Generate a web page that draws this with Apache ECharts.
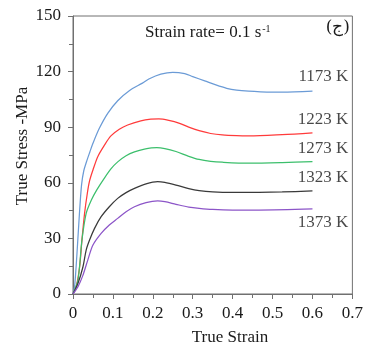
<!DOCTYPE html>
<html>
<head>
<meta charset="utf-8">
<script src="https://cdn.jsdelivr.net/npm/echarts@6/dist/echarts.min.js"></script>
<style>
html,body{margin:0;padding:0;background:#fff;}
#chart{width:366px;height:352px;}
</style>
</head>
<body>
<div id="chart"></div>
<script>
const seriesNames = ['1173 K', '1223 K', '1273 K', '1323 K', '1373 K'];
const seriesColors = ['#6b9bd6', '#ff3b3b', '#3cbf6c', '#3a3a3a', '#8c55c8'];

const strain1173 = [0, 0.004, 0.010, 0.016, 0.0215, 0.027, 0.034, 0.042, 0.050, 0.066, 0.087, 0.112, 0.141, 0.174, 0.19, 0.22, 0.25, 0.28, 0.30, 0.33, 0.358, 0.385, 0.41, 0.44, 0.47, 0.524, 0.6];
const stress1173 = [0, 4, 22, 43, 59, 66.5, 71.5, 76.5, 81.3, 89.4, 97.5, 104.3, 109.7, 113.8, 116, 118.6, 119.6, 118.9, 117.3, 115, 112.8, 111, 110, 109.4, 109.1, 108.9, 109.5];

const strain1223 = [0, 0.008, 0.0166, 0.0224, 0.029, 0.036, 0.0415, 0.05, 0.062, 0.079, 0.095, 0.116, 0.137, 0.17, 0.195, 0.215, 0.24, 0.267, 0.29, 0.316, 0.345, 0.374, 0.41, 0.441, 0.524, 0.6];
const stress1223 = [0, 3.9, 14.7, 29.1, 43.5, 54.5, 61, 66.9, 74.1, 80.4, 85.3, 88.9, 91.2, 93.4, 94.3, 94.5, 93.7, 92.1, 90, 88.1, 86.6, 85.8, 85.4, 85.3, 86, 87];

const strain1273 = [0, 0.0125, 0.0224, 0.033, 0.046, 0.06, 0.077, 0.095, 0.112, 0.133, 0.154, 0.179, 0.21, 0.23, 0.258, 0.29, 0.316, 0.345, 0.374, 0.441, 0.524, 0.6];
const stress1273 = [0, 7.6, 29.1, 43.5, 50.7, 56.3, 62, 67.5, 71.3, 74.6, 76.7, 78.2, 79, 78.5, 76.9, 74.3, 72.6, 71.6, 71.1, 70.6, 70.9, 71.4];

const strain1323 = [0, 0.0125, 0.025, 0.033, 0.0415, 0.054, 0.0705, 0.091, 0.112, 0.133, 0.154, 0.183, 0.212, 0.23, 0.258, 0.29, 0.316, 0.35, 0.4, 0.466, 0.524, 0.6];
const stress1323 = [0, 5.8, 14.7, 23.7, 29.1, 35.4, 41.7, 47.1, 51.6, 54.7, 57, 59.4, 60.6, 60.2, 58.8, 56.9, 55.8, 55.1, 54.8, 54.9, 55.1, 55.6];

const strain1373 = [0, 0.0125, 0.025, 0.037, 0.05, 0.0705, 0.091, 0.112, 0.133, 0.154, 0.183, 0.212, 0.23, 0.258, 0.29, 0.316, 0.35, 0.4, 0.466, 0.6];
const stress1373 = [0, 4, 10.2, 18.3, 26.4, 32.7, 37.2, 40.8, 44.4, 47.1, 49.3, 50.2, 49.8, 48.4, 46.9, 46.2, 45.6, 45.3, 45.3, 45.9];

const strains = [strain1173, strain1223, strain1273, strain1323, strain1373];
const stresses = [stress1173, stress1223, stress1273, stress1323, stress1373];

// label anchor points (data coords, right edge / vertical middle) for the temperature labels
const labelStrain = [0.69, 0.69, 0.69, 0.69, 0.69];
const labelStress = [117.1, 93.9, 78.5, 62.6, 38.6];

const xTicks = [0, 0.1, 0.2, 0.3, 0.4, 0.5, 0.6, 0.7];
const yTicks = [0, 30, 60, 90, 120, 150];

const FONT = 'Liberation Serif';
const chart = echarts.init(document.getElementById('chart'), null, {renderer: 'canvas'});

const series = seriesNames.map((name, i) => ({
  name: name,
  type: 'line',
  data: strains[i].map((x, j) => [x, stresses[i][j]]),
  smooth: 0.3,
  showSymbol: false,
  lineStyle: {color: seriesColors[i], width: 1.25},
  itemStyle: {color: seriesColors[i]},
  z: 3
}));

series.push({
  type: 'scatter',
  data: labelStrain.map((x, i) => [x, labelStress[i], seriesNames[i]]),
  symbolSize: 0,
  label: {
    show: true,
    position: 'inside',
    align: 'right',
    verticalAlign: 'middle',
    formatter: p => p.data[2],
    fontFamily: FONT,
    fontSize: 17,
    color: '#1a1a1a'
  },
  silent: true
});

const axisLineColor = '#707070';

chart.setOption({
  animation: false,
  backgroundColor: '#fff',
  grid: {left: 73, right: 12, top: 16, bottom: 58, show: true, borderColor: axisLineColor, borderWidth: 1},
  xAxis: {
    type: 'value', min: 0, max: 0.7, interval: 0.1,
    axisLine: {show: true, lineStyle: {color: axisLineColor, width: 1}},
    axisTick: {show: true, length: 5, lineStyle: {color: axisLineColor}},
    minorTick: {show: true, splitNumber: 2, length: 4, lineStyle: {color: axisLineColor}},
    splitLine: {show: false},
    axisLabel: {
      fontFamily: FONT, fontSize: 17, color: '#1a1a1a', margin: 11,
      formatter: v => { const t = xTicks.find(k => Math.abs(k - v) < 1e-9); return t === 0 ? '0' : String(t); }
    }
  },
  yAxis: {
    type: 'value', min: 0, max: 150, interval: 30,
    axisLine: {show: true, lineStyle: {color: axisLineColor, width: 1}},
    axisTick: {show: true, length: 5, lineStyle: {color: axisLineColor}},
    minorTick: {show: true, splitNumber: 2, length: 4, lineStyle: {color: axisLineColor}},
    splitLine: {show: false},
    axisLabel: {
      fontFamily: FONT, fontSize: 17, color: '#1a1a1a', margin: 12,
      formatter: v => String(yTicks.find(k => Math.abs(k - v) < 1e-9))
    }
  },
  graphic: [
    {
      type: 'text', x: 22.5, y: 146, rotation: Math.PI / 2,
      style: {text: 'True Stress -MPa', fontFamily: FONT, fontSize: 17, fill: '#1a1a1a', textAlign: 'center', textVerticalAlign: 'middle'}
    },
    {
      type: 'text', x: 230, y: 338,
      style: {text: 'True Strain', fontFamily: FONT, fontSize: 17, fill: '#1a1a1a', textAlign: 'center', textVerticalAlign: 'middle'}
    },
    {
      type: 'text', x: 145, y: 33,
      style: {
        text: '{a|Strain rate= 0.1 s}{b|-1}',
        textVerticalAlign: 'middle',
        rich: {
          a: {fontFamily: FONT, fontSize: 17, fill: '#1a1a1a', color: '#1a1a1a'},
          b: {fontFamily: FONT, fontSize: 10, fill: '#1a1a1a', color: '#1a1a1a', verticalAlign: 'top', padding: [0, 0, 8, 1]}
        }
      }
    },
    {
      type: 'text', x: 350, y: 28,
      style: {text: '(ج)', fontFamily: 'DejaVu Serif, Noto Sans, serif', fontSize: 17, fill: '#1a1a1a', textAlign: 'right', textVerticalAlign: 'middle'}
    }
  ],
  series: series
});
</script>
</body>
</html>
